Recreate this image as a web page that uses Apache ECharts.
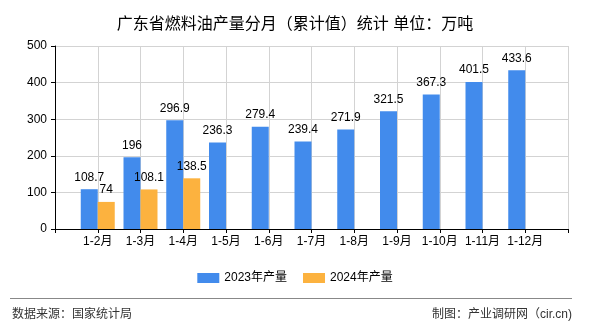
<!DOCTYPE html>
<html>
<head>
<meta charset="utf-8">
<script src="https://cdn.jsdelivr.net/npm/echarts@6/dist/echarts.min.js"></script>
<style>html,body{margin:0;padding:0;background:#fff;}#c{width:590px;height:330px;}</style>
</head>
<body>
<div id="c"></div>
<script>
var categories = ['1-2月','1-3月','1-4月','1-5月','1-6月','1-7月','1-8月','1-9月','1-10月','1-11月','1-12月'];
var values2023 = [108.7,196,296.9,236.3,279.4,239.4,271.9,321.5,367.3,401.5,433.6];
var values2024 = [74,108.1,138.5];
var seriesNames = ['2023年产量','2024年产量'];
var yTicks = {min:0, max:500, interval:100};
var titleText = '广东省燃料油产量分月（累计值）统计 单位：万吨';
var sourceText = '数据来源：国家统计局';
var makerText = '制图：产业调研网（cir.cn)';

var FONT = '"Liberation Sans","Noto Sans CJK SC",sans-serif';
var cats = [''].concat(categories).concat(['']);
function pad(arr){
  var out=[null];
  for (var i=0;i<categories.length;i++) out.push(i<arr.length?arr[i]:null);
  out.push(null);
  return out;
}
var chart = echarts.init(document.getElementById('c'), null, {renderer:'canvas'});
var lbl = {show:true, position:'top', distance:6, color:'#000', fontSize:12, fontFamily:FONT,
  formatter:function(p){return p.value==null?'':String(p.value);}};
chart.setOption({
  animation:false,
  textStyle:{fontFamily:FONT},
  title:{text:titleText, left:'center', top:12, textStyle:{fontSize:16, fontWeight:'normal', color:'#000', fontFamily:FONT}},
  grid:{left:55, right:22, top:46, bottom:101, containLabel:false},
  legend:{bottom:41, left:'center', itemWidth:22, itemHeight:10, itemGap:16,
    textStyle:{fontSize:12, color:'#000', fontFamily:FONT}, icon:'rect', data:seriesNames},
  xAxis:{type:'category', data:cats, boundaryGap:false,
    axisLine:{lineStyle:{color:'#000', width:1}},
    axisTick:{show:true, interval:0, length:4, lineStyle:{color:'#000'}},
    axisLabel:{interval:0, color:'#000', fontSize:12, margin:7, fontFamily:FONT},
    splitLine:{show:true, interval:0, lineStyle:{color:'#d3d3d3', width:1}}},
  yAxis:{type:'value', min:yTicks.min, max:yTicks.max, interval:yTicks.interval,
    axisLine:{show:true, lineStyle:{color:'#000', width:1}},
    axisTick:{show:true, length:4, lineStyle:{color:'#000'}},
    axisLabel:{color:'#000', fontSize:12, margin:8, fontFamily:FONT},
    splitLine:{show:true, lineStyle:{color:'#d3d3d3', width:1}}},
  series:[
    {name:seriesNames[0], type:'bar', data:pad(values2023), barWidth:17, barGap:'0%',
      itemStyle:{color:'#428bec'}, label:lbl},
    {name:seriesNames[1], type:'bar', data:pad(values2024), barWidth:17, barGap:'0%',
      itemStyle:{color:'#fcb23f'}, label:lbl}
  ],
  graphic:[
    {type:'line', shape:{x1:10, y1:298.5, x2:572, y2:298.5}, style:{stroke:'#888', lineWidth:1}},
    {type:'text', left:12, top:309, style:{text:sourceText, fill:'#333', font:'12px '+FONT}},
    {type:'text', right:18, top:309, style:{text:makerText, fill:'#333', font:'12px '+FONT}}
  ]
});
</script>
</body>
</html>
